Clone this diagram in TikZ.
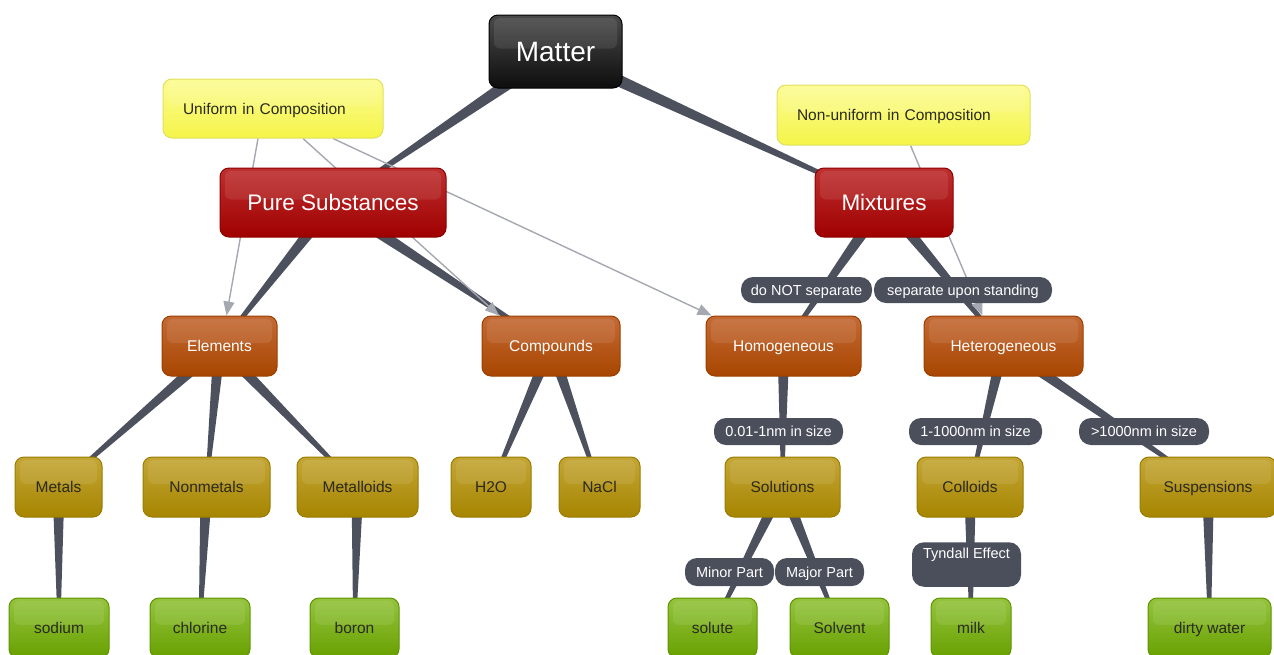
\documentclass[tikz,border=0pt]{standalone}
\usepackage{fontspec}
\setmainfont{Liberation Sans}
\usetikzlibrary{calc,backgrounds,arrows.meta}
\definecolor{connc}{HTML}{4D515E}
\definecolor{lblc}{HTML}{4B4F5C}
\definecolor{arrc}{HTML}{A5A8B0}
\definecolor{txtdark}{HTML}{2A2A20}
\definecolor{blkT}{HTML}{4A4A4A}
\definecolor{blkB}{HTML}{0D0D0D}
\definecolor{blkD}{HTML}{000000}
\definecolor{redT}{HTML}{BE3030}
\definecolor{redB}{HTML}{A00000}
\definecolor{redD}{HTML}{8E0000}
\definecolor{orT}{HTML}{C46A36}
\definecolor{orB}{HTML}{A84600}
\definecolor{orD}{HTML}{9A3F00}
\definecolor{olT}{HTML}{C4A636}
\definecolor{olB}{HTML}{A68500}
\definecolor{olD}{HTML}{9A7C00}
\definecolor{grT}{HTML}{94C43E}
\definecolor{grB}{HTML}{68A000}
\definecolor{grD}{HTML}{5E9400}
\definecolor{yeT}{HTML}{FCFC96}
\definecolor{yeB}{HTML}{F4F448}
\definecolor{yeD}{HTML}{E0E060}
\newcommand\conntaper[3]{\fill[connc] ($(#1)!#3!90:(#2)$) -- ($(#1)!#3!-90:(#2)$) -- ($(#2)!1.3pt!90:(#1)$) -- ($(#2)!1.3pt!-90:(#1)$) -- cycle;}
\tikzset{
  gloss/.style n args={3}{rounded corners=9pt, top color=#1, bottom color=#2, draw=#3, line width=1pt, inner sep=0pt,
    text depth=0pt,
    path picture={\fill[white,opacity=0.09,rounded corners=6pt] ([shift={(5pt,-3pt)}]path picture bounding box.north west) rectangle ([shift={(-5pt,3pt)}]path picture bounding box.east);}},
  blackbox/.style={gloss={blkT}{blkB}{blkD}, text=white, font=\fontsize{28}{32}\selectfont, text height=20pt},
  redbox/.style={gloss={redT}{redB}{redD}, text=white, font=\fontsize{22.5}{26}\selectfont, minimum height=69pt, text height=16pt},
  orangebox/.style={gloss={orT}{orB}{orD}, text=white, font=\fontsize{15.5}{18}\selectfont, minimum height=60pt, text height=11pt},
  olivebox/.style={gloss={olT}{olB}{olD}, text=txtdark, font=\fontsize{15.5}{18}\selectfont, minimum height=60pt, text height=11pt},
  greenbox/.style={gloss={grT}{grB}{grD}, text=txtdark, font=\fontsize{15.5}{18}\selectfont, minimum height=60pt, text height=11pt},
  yellowbox/.style={gloss={yeT}{yeB}{yeD}, text=txtdark, font=\fontsize{15.5}{18}\selectfont, align=left, inner xsep=20pt, text height=11pt},
  lbl/.style={fill=lblc, rounded corners=12pt, text=white, font=\fontsize{14.5}{17}\selectfont, minimum height=26pt, inner sep=0pt,
    text height=10.5pt, text depth=0pt},
  arr/.style={draw=arrc, line width=1.4pt, -{Triangle[length=14pt,width=11pt]}},
}
\begin{document}
\begin{tikzpicture}[x=1pt,y=-1pt]
\useasboundingbox (0,0) rectangle (1274,654);
% main nodes
\node[blackbox, minimum width=133pt, minimum height=73pt] (matter) at (555.5,51.5) {Matter};
\node[yellowbox, text width=180pt, minimum height=59pt] (uni) at (273,108.5) {Uniform in Composition};
\node[yellowbox, text width=213pt, minimum height=60pt] (nonuni) at (903.5,115) {Non-uniform in Composition};
\node[redbox, minimum width=226pt] (pure) at (333,202.5) {Pure Substances};
\node[redbox, minimum width=138pt] (mix) at (884,202.5) {Mixtures};
\node[orangebox, minimum width=115pt] (elem) at (219.5,346) {Elements};
\node[orangebox, minimum width=138pt] (comp) at (551,346) {Compounds};
\node[orangebox, minimum width=155pt] (homog) at (783.5,346) {Homogeneous};
\node[orangebox, minimum width=159pt] (heterog) at (1003.5,346) {Heterogeneous};
\node[olivebox, minimum width=87pt] (metals) at (58.5,487) {Metals};
\node[olivebox, minimum width=127pt] (nonmet) at (206.5,487) {Nonmetals};
\node[olivebox, minimum width=121pt] (metalloid) at (357.5,487) {Metalloids};
\node[olivebox, minimum width=80pt] (hto) at (491,487) {H2O};
\node[olivebox, minimum width=81pt] (nacl) at (599.5,487) {NaCl};
\node[olivebox, minimum width=115pt] (solutions) at (782.5,487) {Solutions};
\node[olivebox, minimum width=106pt] (colloids) at (970,487) {Colloids};
\node[olivebox, minimum width=136pt] (susp) at (1208,487) {Suspensions};
\node[greenbox, minimum width=100pt] (sodium) at (59,628) {sodium};
\node[greenbox, minimum width=100pt] (chlorine) at (200,628) {chlorine};
\node[greenbox, minimum width=89pt] (boron) at (354.5,628) {boron};
\node[greenbox, minimum width=89pt] (solute) at (712.5,628) {solute};
\node[greenbox, minimum width=99pt] (solvent) at (839.5,628) {Solvent};
\node[greenbox, minimum width=80pt] (milk) at (971,628) {milk};
\node[greenbox, minimum width=123pt] (dirty) at (1209.5,628) {dirty water};
% labels
\node[lbl, minimum width=131pt] (nosep) at (806.5,290) {do NOT separate};
\node[lbl, minimum width=178pt] (sepst) at (963,290) {separate upon standing};
\node[lbl, minimum width=129pt, minimum height=27pt] (lsmall) at (778.5,431.5) {0.01-1nm in size};
\node[lbl, minimum width=133pt, minimum height=27pt] (lmid) at (975.5,431.5) {1-1000nm in size};
\node[lbl, minimum width=130pt, minimum height=27pt] (lbig) at (1144,431.5) {>1000nm in size};
\node[lbl, minimum width=89pt, minimum height=28pt] (minor) at (729.5,572) {Minor Part};
\node[lbl, minimum width=89pt, minimum height=28pt] (major) at (819.5,572) {Major Part};
\node[lbl, minimum width=109pt, text height=10.5pt, text depth=23pt, inner ysep=5.5pt] (tyndall) at (966.5,564.5) {Tyndall Effect};
% connectors
\begin{scope}[on background layer]
\conntaper{matter}{pure}{7pt}
\conntaper{matter}{mix}{7pt}
\conntaper{pure}{elem}{6.5pt}
\conntaper{pure}{comp}{6.5pt}
\conntaper{mix}{homog}{6.5pt}
\conntaper{mix}{heterog}{6.5pt}
\conntaper{elem}{metals}{6pt}
\conntaper{elem}{nonmet}{6pt}
\conntaper{elem}{metalloid}{6pt}
\conntaper{comp}{hto}{6pt}
\conntaper{comp}{nacl}{6pt}
\conntaper{homog}{solutions}{6pt}
\conntaper{heterog}{colloids}{6pt}
\conntaper{heterog}{susp}{6pt}
\conntaper{solutions}{solute}{6pt}
\conntaper{solutions}{solvent}{6pt}
\conntaper{metals}{sodium}{6pt}
\conntaper{nonmet}{chlorine}{6pt}
\conntaper{metalloid}{boron}{6pt}
\conntaper{colloids}{milk}{6pt}
\conntaper{susp}{dirty}{6pt}
\draw[arr] ([xshift=-15pt]uni.south) -- ([xshift=7pt]elem.north);
\draw[arr] ([xshift=30pt]uni.south) -- ([xshift=-52pt]comp.north);
\draw[arr] ([xshift=60pt]uni.south) -- ([xshift=6pt]homog.north west);
\draw[arr] ([xshift=7pt]nonuni.south) -- ([xshift=-21pt]heterog.north);
\end{scope}
\end{tikzpicture}
\end{document}
